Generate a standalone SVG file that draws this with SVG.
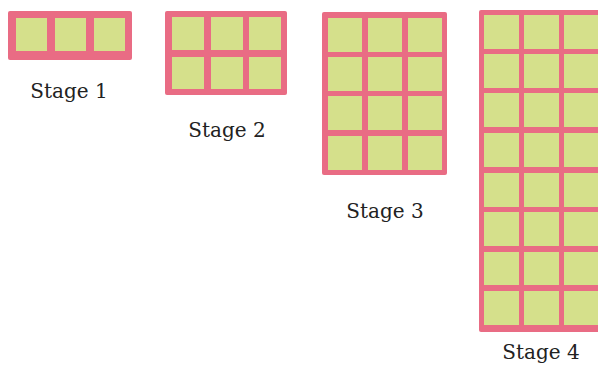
<svg xmlns="http://www.w3.org/2000/svg" width="598" height="372" viewBox="0 0 598 372">
<style>
.frame{fill:#e96c84}
.cell{fill:#d5e08b}
.lbl{font-family:"DejaVu Serif","Liberation Serif",serif;font-size:20px;fill:#222;text-anchor:middle}
</style>
<rect width="598" height="372" fill="#ffffff"/>
<g id="stage1">
<rect class="frame" x="8" y="11" width="124" height="49" rx="2"/>
<rect class="cell" x="16" y="18" width="31" height="33"/>
<rect class="cell" x="55" y="18" width="31" height="33"/>
<rect class="cell" x="94" y="18" width="31" height="33"/>
<text class="lbl" x="69" y="98">Stage 1</text>
</g>
<g id="stage2">
<rect class="frame" x="165" y="11" width="122" height="84" rx="2"/>
<rect class="cell" x="172" y="17" width="32" height="33"/>
<rect class="cell" x="211" y="17" width="32" height="33"/>
<rect class="cell" x="249" y="17" width="32" height="33"/>
<rect class="cell" x="172" y="57" width="32" height="32"/>
<rect class="cell" x="211" y="57" width="32" height="32"/>
<rect class="cell" x="249" y="57" width="32" height="32"/>
<text class="lbl" x="227" y="137">Stage 2</text>
</g>
<g id="stage3">
<rect class="frame" x="322" y="12" width="125" height="163" rx="2"/>
<rect class="cell" x="328" y="18" width="34" height="34"/>
<rect class="cell" x="368" y="18" width="34" height="34"/>
<rect class="cell" x="408" y="18" width="34" height="34"/>
<rect class="cell" x="328" y="57" width="34" height="34"/>
<rect class="cell" x="368" y="57" width="34" height="34"/>
<rect class="cell" x="408" y="57" width="34" height="34"/>
<rect class="cell" x="328" y="96" width="34" height="34"/>
<rect class="cell" x="368" y="96" width="34" height="34"/>
<rect class="cell" x="408" y="96" width="34" height="34"/>
<rect class="cell" x="328" y="136" width="34" height="34"/>
<rect class="cell" x="368" y="136" width="34" height="34"/>
<rect class="cell" x="408" y="136" width="34" height="34"/>
<text class="lbl" x="385" y="218">Stage 3</text>
</g>
<g id="stage4">
<rect class="frame" x="479" y="10" width="130" height="322" rx="2"/>
<g id="s4cells">
<rect class="cell" x="484" y="15" width="35" height="34"/><rect class="cell" x="524" y="15" width="35" height="34"/><rect class="cell" x="564" y="15" width="35" height="34"/>
<rect class="cell" x="484" y="54" width="35" height="34"/><rect class="cell" x="524" y="54" width="35" height="34"/><rect class="cell" x="564" y="54" width="35" height="34"/>
<rect class="cell" x="484" y="93" width="35" height="34"/><rect class="cell" x="524" y="93" width="35" height="34"/><rect class="cell" x="564" y="93" width="35" height="34"/>
<rect class="cell" x="484" y="133" width="35" height="34"/><rect class="cell" x="524" y="133" width="35" height="34"/><rect class="cell" x="564" y="133" width="35" height="34"/>
<rect class="cell" x="484" y="173" width="35" height="34"/><rect class="cell" x="524" y="173" width="35" height="34"/><rect class="cell" x="564" y="173" width="35" height="34"/>
<rect class="cell" x="484" y="212" width="35" height="34"/><rect class="cell" x="524" y="212" width="35" height="34"/><rect class="cell" x="564" y="212" width="35" height="34"/>
<rect class="cell" x="484" y="252" width="35" height="33"/><rect class="cell" x="524" y="252" width="35" height="33"/><rect class="cell" x="564" y="252" width="35" height="33"/>
<rect class="cell" x="484" y="291" width="35" height="34"/><rect class="cell" x="524" y="291" width="35" height="34"/><rect class="cell" x="564" y="291" width="35" height="34"/>
</g>
<text class="lbl" x="541" y="359">Stage 4</text>
</g>
</svg>
